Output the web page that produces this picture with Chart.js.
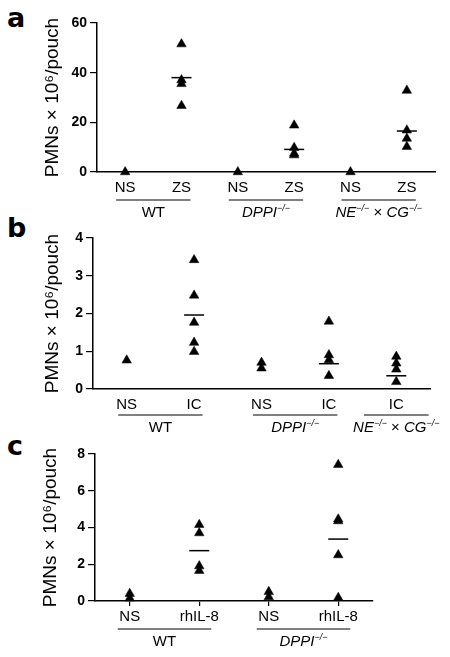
<!DOCTYPE html>
<html>
<head>
<meta charset="utf-8">
<script src="https://cdn.jsdelivr.net/npm/chart.js@4.4.0/dist/chart.umd.min.js"></script>
<style>
  body { margin: 0; background: #fff; width: 450px; height: 657px; position: relative; overflow: hidden; }
  canvas { position: absolute; left: 0; }
  .letter { position: absolute; left: 7px; font: bold 27px "DejaVu Sans", sans-serif; line-height: 27px; color: #000; }
</style>
</head>
<body>
<div class="letter" style="top:4px">a</div>
<div class="letter" style="top:214px">b</div>
<div class="letter" style="top:432px">c</div>
<canvas id="chartA" width="450" height="225" style="top:0"></canvas>
<canvas id="chartB" width="450" height="220" style="top:218px"></canvas>
<canvas id="chartC" width="450" height="225" style="top:432px"></canvas>
<script>
// Panel a: zymosan (ZS) vs saline (NS)
const aCategories = ['NS', 'ZS', 'NS', 'ZS', 'NS', 'ZS'];
const aValues = [[0], [51.5, 37, 35.5, 26.7], [0], [18.8, 9.8, 7.5, 6.8], [0], [32.8, 16.8, 13.5, 10.2]];
const aMeans = [null, 38, null, 9.1, null, 16.5];
const aGroups = ['WT', 'DPPI−/−', 'NE−/− × CG−/−'];
const aGroupSpans = [[0, 1], [2, 3], [4, 5]];
const aTicks = [0, 20, 40, 60];

// Panel b: immune complex (IC)
const bCategories = ['NS', 'IC', 'NS', 'IC', 'IC'];
const bValues = [[0.76], [3.42, 2.48, 1.76, 1.23, 0.99], [0.7, 0.55], [1.79, 0.9, 0.77, 0.35], [0.86, 0.68, 0.52, 0.19]];
const bMeans = [null, 1.96, null, 0.67, 0.35];
const bGroups = ['WT', 'DPPI−/−', 'NE−/− × CG−/−'];
const bGroupSpans = [[0, 1], [2, 3], [4, 4]];
const bTicks = [0, 1, 2, 3, 4];

// Panel c: rhIL-8
const cCategories = ['NS', 'rhIL-8', 'NS', 'rhIL-8'];
const cValues = [[0.4, 0.15], [4.15, 3.7, 1.9, 1.65], [0.5, 0.22], [7.42, 4.45, 4.35, 2.5, 0.18]];
const cMeans = [null, 2.74, null, 3.37];
const cGroups = ['WT', 'DPPI−/−'];
const cGroupSpans = [[0, 1], [2, 3]];
const cTicks = [0, 2, 4, 6, 8];

const FONT = '"Liberation Sans", Arial, sans-serif';

// group name with italic gene names and small raised −/−
function drawRichLabel(ctx, text, cx, cy, size) {
    const parts = text.split(/(−\/−| × )/).filter(p => p);
    const fontFor = p => p === '−/−' ? `italic ${size * 0.6}px ${FONT}`
        : (p === ' × ' || p === 'WT') ? `${size}px ${FONT}` : `italic ${size}px ${FONT}`;
    let total = 0;
    const widths = parts.map(p => {
        ctx.font = fontFor(p);
        const w = ctx.measureText(p).width;
        total += w;
        return w;
    });
    let x = cx - total / 2;
    ctx.textBaseline = 'middle';
    ctx.textAlign = 'left';
    ctx.fillStyle = '#000';
    parts.forEach((p, i) => {
        ctx.font = fontFor(p);
        ctx.fillText(p, x, p === '−/−' ? cy - size * 0.3 : cy);
        x += widths[i];
    });
}

const groupLabels = {
    id: 'groupLabels',
    afterDraw(chart, args, opts) {
        const xs = chart.scales.x;
        const ctx = chart.ctx;
        const step = xs.getPixelForValue(1) - xs.getPixelForValue(0);
        ctx.save();
        ctx.strokeStyle = '#000';
        ctx.lineWidth = 1;
        opts.groups.forEach((name, i) => {
            const [first, last] = opts.spans[i];
            const pad = first === last ? step * 0.48 : opts.pad;
            const x0 = xs.getPixelForValue(first) - pad;
            const x1 = xs.getPixelForValue(last) + pad;
            ctx.beginPath();
            ctx.moveTo(x0, xs.top + opts.lineOffset);
            ctx.lineTo(x1, xs.top + opts.lineOffset);
            ctx.stroke();
            drawRichLabel(ctx, name, (x0 + x1) / 2, xs.top + opts.textOffset, 15);
        });
        ctx.restore();
    }
};

function toPoints(values) {
    return values.flatMap((vals, i) => vals.map(v => ({ x: i, y: v })));
}

function toMeans(means) {
    return means.map((m, i) => (m === null ? null : { x: i, y: m })).filter(Boolean);
}

function createPanel(elementId, cfg) {
    const ctx = document.getElementById(elementId).getContext('2d');
    return new Chart(ctx, {
        type: 'scatter',
        data: {
            datasets: [{
                data: toPoints(cfg.values),
                pointStyle: 'triangle',
                pointRadius: 5.5,
                backgroundColor: '#000',
                borderColor: '#000',
                borderWidth: 0.5,
                clip: false
            }, {
                data: toMeans(cfg.means),
                pointStyle: 'line',
                pointRadius: 10,
                borderColor: '#000',
                borderWidth: 1.5,
                clip: false
            }]
        },
        options: {
            responsive: false,
            animation: false,
            layout: { padding: cfg.padding },
            plugins: {
                legend: { display: false },
                tooltip: { enabled: false },
                groupLabels: {
                    groups: cfg.groups, spans: cfg.spans, pad: cfg.groupPad,
                    lineOffset: cfg.lineOffset, textOffset: cfg.textOffset
                }
            },
            scales: {
                x: {
                    type: 'linear',
                    min: -0.5,
                    max: cfg.categories.length - 0.5,
                    afterBuildTicks: s => { s.ticks = cfg.categories.map((c, i) => ({ value: i })); },
                    afterFit: s => { s.height = cfg.xHeight; },
                    ticks: {
                        callback: v => cfg.categories[v],
                        color: '#000', autoSkip: false, maxRotation: 0,
                        padding: cfg.xTickMarks ? 2 : 7,
                        font: { family: FONT, size: 15 }
                    },
                    grid: cfg.xTickMarks
                        ? { drawOnChartArea: false, tickLength: 5, color: '#000', lineWidth: 1.2 }
                        : { display: false, drawTicks: false },
                    border: { color: '#000', width: 1.5 }
                },
                y: {
                    min: cfg.ticks[0],
                    max: cfg.ticks[cfg.ticks.length - 1],
                    afterBuildTicks: s => { s.ticks = cfg.ticks.map(v => ({ value: v })); },
                    afterFit: s => { s.width = cfg.yWidth; },
                    ticks: { color: '#000', padding: 3, font: { family: FONT, size: 14, weight: 'bold' } },
                    grid: { drawOnChartArea: false, tickLength: 7, color: '#000', lineWidth: 1.2 },
                    border: { color: '#000', width: 1.5 },
                    title: {
                        display: true,
                        text: 'PMNs × 10⁶/pouch',
                        color: '#000',
                        padding: 0,
                        font: { family: FONT, size: 19 }
                    }
                }
            }
        },
        plugins: [groupLabels]
    });
}

createPanel('chartA', {
    categories: aCategories, values: aValues, means: aMeans, ticks: aTicks,
    groups: aGroups, spans: aGroupSpans, groupPad: 9,
    padding: { left: 41, right: 15, top: 23, bottom: 0 },
    yWidth: 56, xHeight: 53, lineOffset: 28, textOffset: 41
});

createPanel('chartB', {
    categories: bCategories, values: bValues, means: bMeans, ticks: bTicks,
    groups: bGroups, spans: bGroupSpans, groupPad: 8.5,
    padding: { left: 41, right: 20, top: 20, bottom: 0 },
    yWidth: 52, xHeight: 49, lineOffset: 26, textOffset: 39
});

createPanel('chartC', {
    categories: cCategories, values: cValues, means: cMeans, ticks: cTicks,
    groups: cGroups, spans: cGroupSpans, groupPad: 12,
    padding: { left: 39, right: 77, top: 22, bottom: 0 },
    yWidth: 56, xHeight: 56, lineOffset: 28, textOffset: 41, xTickMarks: true
});
</script>
</body>
</html>
